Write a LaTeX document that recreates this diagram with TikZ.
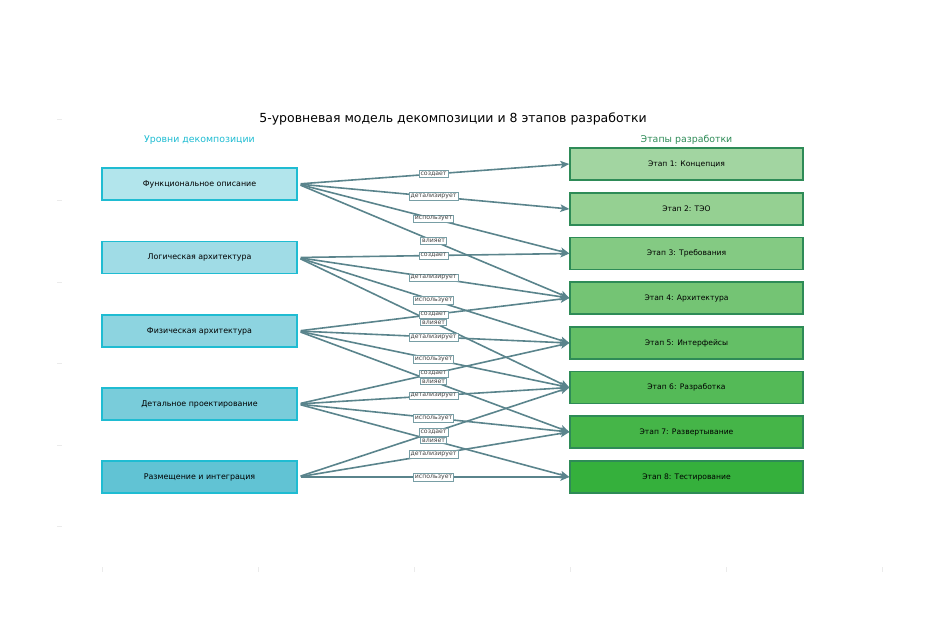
\documentclass[tikz,border=0pt]{standalone}
\usepackage{fontspec}
\setmainfont{DejaVu Sans}
\usetikzlibrary{arrows.meta}

\definecolor{lvlborder}{RGB}{31,188,210}
\definecolor{lvlA}{RGB}{178,229,236}
\definecolor{lvlB}{RGB}{160,220,230}
\definecolor{lvlC}{RGB}{141,212,224}
\definecolor{lvlD}{RGB}{121,204,218}
\definecolor{lvlE}{RGB}{97,195,212}
\definecolor{stgborder}{RGB}{46,139,87}
\definecolor{stgA}{RGB}{162,213,161}
\definecolor{stgB}{RGB}{149,208,146}
\definecolor{stgC}{RGB}{132,202,131}
\definecolor{stgD}{RGB}{116,196,116}
\definecolor{stgE}{RGB}{100,191,102}
\definecolor{stgF}{RGB}{84,186,87}
\definecolor{stgG}{RGB}{69,181,72}
\definecolor{stgH}{RGB}{53,176,60}
\definecolor{linkcol}{RGB}{90,132,140}
\definecolor{lblborder}{RGB}{120,158,165}

\begin{document}
\begin{tikzpicture}[x=1pt,y=-1pt,
  level box/.style={
    draw=lvlborder,
    line width=1.5pt,
    minimum width=195pt,
    minimum height=32pt,
    font=\fontsize{7.9}{9}\selectfont},
  stage box/.style={
    draw=stgborder,
    line width=1.2pt,
    minimum width=233pt,
    minimum height=32pt,
    font=\fontsize{7.6}{9}\selectfont},
  link/.style={
    draw=linkcol,
    line width=1.6pt,
    -{Stealth[length=9pt,width=7.5pt,inset=2pt]},
    shorten <=3pt},
  lbl/.style={
    fill=white,
    draw=lblborder,
    line width=0.6pt,
    inner sep=1.5pt,
    text=black!75,
    font=\fontsize{6.2}{7}\selectfont},
  tick/.style={draw=black!8, line width=0.8pt}
  ]
    \useasboundingbox (0,0) rectangle (945,630);
    % faint axis ticks
    \foreach \ty in {119,200.5,282,363.5,445,526.5}
        \draw[tick] (57,\ty) -- (62,\ty);
    \foreach \tx in {102,258,414,570,726,882}
        \draw[tick] (\tx,567) -- (\tx,572);

    \node (title) at (453,119) {\fontsize{12.5}{14}\selectfont 5-уровневая модель декомпозиции и 8 этапов разработки};
    \node[text=lvlborder, font=\fontsize{9.4}{11}\selectfont] (lvlhead) at (199.5,140) {Уровни декомпозиции};
    \node[text=stgborder, font=\fontsize{9.4}{11}\selectfont] (stghead) at (686.5,140) {Этапы разработки};

    % decomposition levels
    \node[level box, fill=lvlA] (l1) at (199.5,184) {Функциональное описание};
    \node[level box, fill=lvlB] (l2) at (199.5,257.5) {Логическая архитектура};
    \node[level box, fill=lvlC] (l3) at (199.5,331) {Физическая архитектура};
    \node[level box, fill=lvlD] (l4) at (199.5,404) {Детальное проектирование};
    \node[level box, fill=lvlE] (l5) at (199.5,477) {Размещение и интеграция};

    % development stages
    \node[stage box, fill=stgA] (s1) at (686.5,164) {Этап 1: Концепция};
    \node[stage box, fill=stgB] (s2) at (686.5,209) {Этап 2: ТЭО};
    \node[stage box, fill=stgC] (s3) at (686.5,253.5) {Этап 3: Требования};
    \node[stage box, fill=stgD] (s4) at (686.5,298) {Этап 4: Архитектура};
    \node[stage box, fill=stgE] (s5) at (686.5,343) {Этап 5: Интерфейсы};
    \node[stage box, fill=stgF] (s6) at (686.5,387.5) {Этап 6: Разработка};
    \node[stage box, fill=stgG] (s7) at (686.5,432) {Этап 7: Развертывание};
    \node[stage box, fill=stgH] (s8) at (686.5,477) {Этап 8: Тестирование};

    \draw[link] (l1.east) -- node[lbl]{создает} (s1.west);
    \draw[link] (l1.east) -- node[lbl]{детализирует} (s2.west);
    \draw[link] (l1.east) -- node[lbl]{использует} (s3.west);
    \draw[link] (l1.east) -- node[lbl]{влияет} (s4.west);

    \draw[link] (l2.east) -- node[lbl]{создает} (s3.west);
    \draw[link] (l2.east) -- node[lbl]{детализирует} (s4.west);
    \draw[link] (l2.east) -- node[lbl]{использует} (s5.west);
    \draw[link] (l2.east) -- node[lbl]{влияет} (s6.west);

    \draw[link] (l3.east) -- node[lbl]{создает} (s4.west);
    \draw[link] (l3.east) -- node[lbl]{детализирует} (s5.west);
    \draw[link] (l3.east) -- node[lbl]{использует} (s6.west);
    \draw[link] (l3.east) -- node[lbl]{влияет} (s7.west);

    \draw[link] (l4.east) -- node[lbl]{создает} (s5.west);
    \draw[link] (l4.east) -- node[lbl]{детализирует} (s6.west);
    \draw[link] (l4.east) -- node[lbl]{использует} (s7.west);
    \draw[link] (l4.east) -- node[lbl]{влияет} (s8.west);

    \draw[link] (l5.east) -- node[lbl]{создает} (s6.west);
    \draw[link] (l5.east) -- node[lbl]{детализирует} (s7.west);
    \draw[link] (l5.east) -- node[lbl]{использует} (s8.west);
\end{tikzpicture}
\end{document}
